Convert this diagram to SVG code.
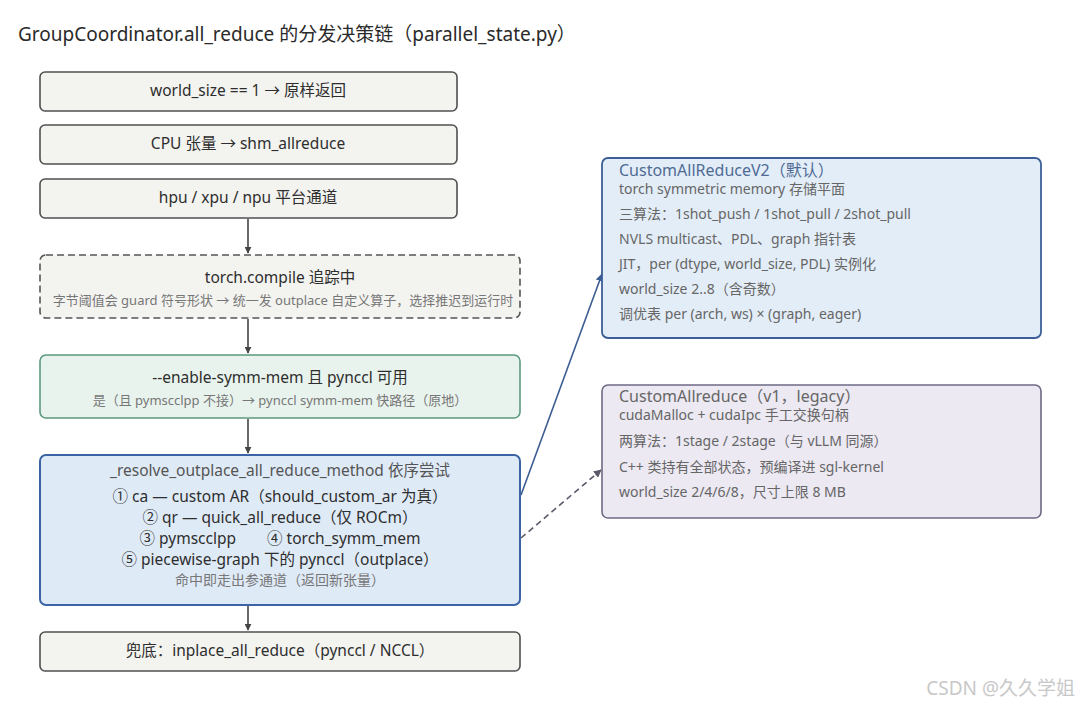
<svg xmlns="http://www.w3.org/2000/svg" width="1080" height="704" viewBox="0 0 1080 704">
<defs>
<marker id="ah" viewBox="0 0 10 10" refX="9" refY="5" markerWidth="7" markerHeight="7" orient="auto-start-reverse" markerUnits="userSpaceOnUse"><path d="M0,0 L10,5 L0,10 z" fill="#444"/></marker>
<marker id="ahb" viewBox="0 0 10 10" refX="9" refY="5" markerWidth="8" markerHeight="8" orient="auto" markerUnits="userSpaceOnUse"><path d="M0,0 L10,5 L0,10 z" fill="#3b5d92"/></marker>
<marker id="ahg" viewBox="0 0 10 10" refX="9" refY="5" markerWidth="8" markerHeight="8" orient="auto" markerUnits="userSpaceOnUse"><path d="M0,0 L10,5 L0,10 z" fill="#5a5a6a"/></marker>
</defs>
<style>
text{font-family:"Noto Sans","Noto Sans CJK SC",sans-serif;}
.gray{fill:#f3f3f0;stroke:#505050;stroke-width:1.6;}
.main{font-size:15.5px;fill:#2e2e2e;text-anchor:middle;}
.sub{font-size:13px;fill:#777;text-anchor:middle;}
.rt{font-size:16px;}
.rl{font-size:14px;fill:#666;}
</style>
<rect width="1080" height="704" fill="#ffffff"/>
<text x="18" y="41" font-size="19" fill="#2a2a2a">GroupCoordinator.all_reduce 的分发决策链（parallel_state.py）</text>

<g id="edges" fill="none">
<line x1="248" y1="219" x2="248" y2="253" stroke="#444" stroke-width="1.6" marker-end="url(#ah)"/>
<line x1="248" y1="319" x2="248" y2="353" stroke="#444" stroke-width="1.6" marker-end="url(#ah)"/>
<line x1="248" y1="419" x2="248" y2="453" stroke="#444" stroke-width="1.6" marker-end="url(#ah)"/>
<line x1="248" y1="606" x2="248" y2="630" stroke="#444" stroke-width="1.6" marker-end="url(#ah)"/>
<line x1="521" y1="495" x2="602" y2="274" stroke="#3b5d92" stroke-width="1.6" marker-end="url(#ahb)"/>
<line x1="521" y1="538" x2="601" y2="470" stroke="#5a5a6a" stroke-width="1.6" stroke-dasharray="6 4" marker-end="url(#ahg)"/>
</g>

<g id="n1"><rect class="gray" x="40" y="72" width="417" height="39" rx="5"/><text class="main" x="248" y="96">world_size == 1 → 原样返回</text></g>
<g id="n2"><rect class="gray" x="40" y="125" width="417" height="39" rx="5"/><text class="main" x="248" y="149">CPU 张量 → shm_allreduce</text></g>
<g id="n3"><rect class="gray" x="40" y="179" width="417" height="39" rx="5"/><text class="main" x="248" y="203">hpu / xpu / npu 平台通道</text></g>

<g id="n4"><rect x="40" y="255" width="480" height="63" rx="6" fill="#f3f3f0" stroke="#555" stroke-width="1.6" stroke-dasharray="7 4"/>
<text class="main" x="280" y="283">torch.compile 追踪中</text>
<text class="sub" x="283" y="305">字节阈值会 guard 符号形状 → 统一发 outplace 自定义算子，选择推迟到运行时</text></g>

<g id="n5"><rect x="40" y="355" width="480" height="63" rx="6" fill="#e8f3ed" stroke="#5b9a7e" stroke-width="1.6"/>
<text class="main" x="280" y="383">--enable-symm-mem 且 pynccl 可用</text>
<text class="sub" x="280" y="405">是（且 pymscclpp 不接）→ pynccl symm-mem 快路径（原地）</text></g>

<g id="n6"><rect x="40" y="455" width="480" height="150" rx="6" fill="#dfeaf7" stroke="#3a64a3" stroke-width="2"/>
<text class="main" x="280" y="476" style="fill:#555">_resolve_outplace_all_reduce_method 依序尝试</text>
<text class="main" x="280" y="502">① ca — custom AR（should_custom_ar 为真）</text>
<text class="main" x="280" y="523">② qr — quick_all_reduce（仅 ROCm）</text>
<text class="main" x="280" y="544">③ pymscclpp　　④ torch_symm_mem</text>
<text class="main" x="280" y="565">⑤ piecewise-graph 下的 pynccl（outplace）</text>
<text class="sub" x="280" y="585" style="font-size:14px">命中即走出参通道（返回新张量）</text></g>

<g id="n7"><rect class="gray" x="40" y="632" width="480" height="39" rx="5"/><text class="main" x="280" y="656">兜底：inplace_all_reduce（pynccl / NCCL）</text></g>

<g id="v2"><rect x="602" y="158" width="439" height="180" rx="6" fill="#e3edf8" stroke="#3c5f98" stroke-width="1.8"/>
<text class="rt" x="619" y="176" fill="#4f6b94">CustomAllReduceV2（默认）</text>
<text class="rl" x="619" y="194">torch symmetric memory 存储平面</text>
<text class="rl" x="619" y="219">三算法：1shot_push / 1shot_pull / 2shot_pull</text>
<text class="rl" x="619" y="244">NVLS multicast、PDL、graph 指针表</text>
<text class="rl" x="619" y="269">JIT，per (dtype, world_size, PDL) 实例化</text>
<text class="rl" x="619" y="294">world_size 2..8（含奇数）</text>
<text class="rl" x="619" y="319">调优表 per (arch, ws) × (graph, eager)</text></g>

<g id="v1"><rect x="602" y="385" width="439" height="133" rx="6" fill="#ece9f3" stroke="#6e6a85" stroke-width="1.6"/>
<text class="rt" x="619" y="402" fill="#666">CustomAllreduce（v1，legacy）</text>
<text class="rl" x="619" y="420">cudaMalloc + cudaIpc 手工交换句柄</text>
<text class="rl" x="619" y="446">两算法：1stage / 2stage（与 vLLM 同源）</text>
<text class="rl" x="619" y="472">C++ 类持有全部状态，预编译进 sgl-kernel</text>
<text class="rl" x="619" y="497">world_size 2/4/6/8，尺寸上限 8 MB</text></g>

<text x="1075" y="695" font-size="19" fill="#c8c8c8" text-anchor="end">CSDN @久久学姐</text>
</svg>
